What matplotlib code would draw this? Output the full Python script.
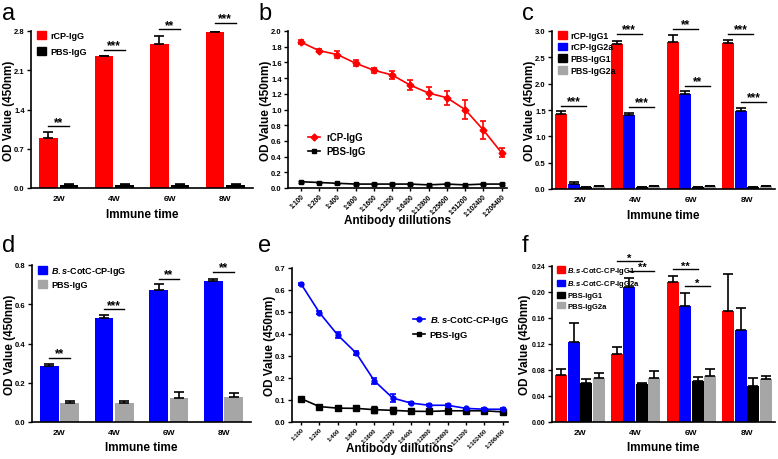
import numpy as np
import matplotlib
matplotlib.use("Agg")
import matplotlib.pyplot as plt
from matplotlib.patches import Patch
from matplotlib.lines import Line2D

plt.rcParams['font.family'] = ['Liberation Sans', 'DejaVu Sans']
plt.rcParams['font.weight'] = 'bold'
plt.rcParams['mathtext.fontset'] = 'custom'
plt.rcParams['mathtext.it'] = 'Liberation Sans:italic:bold'
plt.rcParams['mathtext.rm'] = 'Liberation Sans:bold'

# ---------------- data ----------------
weeks = ["2W", "4W", "6W", "8W"]
dilutions = ["1:100", "1:200", "1:400", "1:800", "1:1600", "1:3200", "1:6400",
             "1:12800", "1:25600", "1:51200", "1:102400", "1:206400"]

# panel a
a_rcp = [0.89, 2.35, 2.56, 2.79]
a_rcp_err = [0.10, 0.01, 0.15, 0.01]
a_pbs = [0.06, 0.06, 0.06, 0.06]
a_pbs_err = [0.005, 0.005, 0.005, 0.005]

# panel b
b_rcp = [1.86, 1.75, 1.70, 1.59, 1.50, 1.44, 1.31, 1.21, 1.15, 1.00, 0.74, 0.45]
b_rcp_err = [0.03, 0.02, 0.04, 0.04, 0.03, 0.05, 0.06, 0.08, 0.09, 0.12, 0.11, 0.06]
b_pbs = [0.08, 0.07, 0.06, 0.05, 0.05, 0.05, 0.05, 0.04, 0.05, 0.04, 0.05, 0.05]
b_pbs_err = [0.01] * 12

# panel c
c_igg1 = [1.43, 2.76, 2.80, 2.78]
c_igg1_err = [0.05, 0.05, 0.13, 0.05]
c_igg2a = [0.10, 1.41, 1.80, 1.49]
c_igg2a_err = [0.03, 0.04, 0.07, 0.04]
c_pbs1 = [0.04, 0.04, 0.04, 0.04]
c_pbs1_err = [0.005] * 4
c_pbs2a = [0.05, 0.05, 0.05, 0.05]
c_pbs2a_err = [0.005] * 4

# panel d
d_bs = [0.284, 0.532, 0.673, 0.718]
d_bs_err = [0.013, 0.015, 0.030, 0.011]
d_pbs = [0.097, 0.097, 0.124, 0.127]
d_pbs_err = [0.010, 0.010, 0.031, 0.023]

# panel e
e_bs = [0.627, 0.497, 0.395, 0.314, 0.187, 0.109, 0.086, 0.076, 0.076, 0.062, 0.058, 0.058]
e_bs_err = [0.003, 0.008, 0.012, 0.010, 0.015, 0.017, 0.004, 0.004, 0.008, 0.003, 0.004, 0.004]
e_pbs = [0.106, 0.070, 0.063, 0.062, 0.056, 0.053, 0.049, 0.048, 0.051, 0.051, 0.051, 0.046]
e_pbs_err = [0.008, 0.005, 0.009, 0.008, 0.015, 0.015, 0.005, 0.006, 0.008, 0.008, 0.006, 0.005]

# panel f
f_bs1 = [0.0726, 0.104, 0.216, 0.171]
f_bs1_err = [0.009, 0.011, 0.009, 0.056]
f_bs2a = [0.1226, 0.208, 0.179, 0.141]
f_bs2a_err = [0.030, 0.013, 0.020, 0.035]
f_pbs1 = [0.060, 0.0587, 0.063, 0.056]
f_pbs1_err = [0.006, 0.002, 0.006, 0.011]
f_pbs2a = [0.068, 0.068, 0.0706, 0.0654]
f_pbs2a_err = [0.008, 0.010, 0.011, 0.006]

BS = r"$\mathit{B.s}$"

RED = "#ff0000"
BLUE = "#0000ff"
BLACK = "#000000"
GRAY = "#a6a6a6"

W, H = 778, 460
fig = plt.figure(figsize=(W / 100, H / 100), dpi=100)

TICK_FS = 5.5
LAB_FS = 8.5


def px_axes(left, top, right, bottom):
    return fig.add_axes([left / W, 1 - bottom / H, (right - left) / W, (bottom - top) / H])


def style(ax, yticks, fmt, wpx, hpx, xlab_off, ylab_off=22, ytick_fs=TICK_FS):
    for s in ["top", "right"]:
        ax.spines[s].set_visible(False)
    for s in ["left", "bottom"]:
        ax.spines[s].set_linewidth(1.2)
    ax.set_yticks(yticks)
    ax.set_yticklabels([fmt.format(v) for v in yticks], fontsize=ytick_fs, fontweight='bold')
    ax.set_ylim(yticks[0], yticks[-1])
    ax.tick_params(axis='y', length=3, width=1.0, pad=1.5)
    ax.set_ylabel("OD Value (450nm)", fontsize=LAB_FS, fontweight='bold')
    ax.yaxis.set_label_coords(-ylab_off / wpx, 0.5)
    ax.yaxis.label.set_va('center')
    ax._xlab = (xlab_off, hpx)


def set_xlabel(ax, text):
    off, hpx = ax._xlab
    ax.set_xlabel(text, fontsize=LAB_FS, fontweight='bold')
    ax.xaxis.set_label_coords(0.5, -off / hpx)
    ax.xaxis.label.set_va('center')


def bars(ax, series, errs, colors, width, gap):
    n = len(series)
    x = np.arange(len(weeks))
    centers = []
    for i, (vals, err, col) in enumerate(zip(series, errs, colors)):
        off = (i - (n - 1) / 2) * (width + gap)
        xi = x + off
        ax.bar(xi, vals, width=width, color=col, zorder=2)
        ax.errorbar(xi, vals, yerr=[np.zeros(len(vals)), err], fmt='none',
                    ecolor='black', elinewidth=1.2, capsize=3.5, capthick=1.2, zorder=3)
        centers.append(xi)
    ax.set_xticks(x)
    ax.set_xticklabels(weeks, fontsize=TICK_FS + 0.5, fontweight='bold')
    ax.tick_params(axis='x', length=0, pad=5)
    ax.set_xlim(-0.5, len(weeks) - 0.5)
    set_xlabel(ax, "Immune time")
    return centers


def sig(ax, x1, x2, y, text, dy, fs=8.5):
    ax.plot([x1, x2], [y, y], color='black', lw=1.0, clip_on=False, zorder=4)
    ax.text((x1 + x2) / 2, y + dy, text, ha='center', va='center',
            fontsize=fs, fontweight='bold', clip_on=False)


def bar_legend(ax, labels, colors, size=6.5, spacing=0.35, hh=1.0, tpad=0.4):
    handles = [Patch(facecolor=c, edgecolor=c) for c in colors]
    ax.legend(handles, labels, loc='upper left', bbox_to_anchor=(0.0, 1.04),
              frameon=False, handlelength=1.0, handleheight=hh,
              handletextpad=tpad, labelspacing=spacing, borderaxespad=0.3,
              prop={'weight': 'bold', 'size': size})


def line_axes(ax, fs):
    x = np.arange(len(dilutions))
    ax.set_xticks(x)
    ax.set_xticklabels(dilutions, rotation=45, ha='right', rotation_mode='anchor',
                       fontsize=fs, fontweight='bold')
    ax.tick_params(axis='x', length=2.5, width=1.0, pad=1.0)
    set_xlabel(ax, "Antibody dillutions")
    return x


# ---------------- panel a ----------------
ax = px_axes(31, 32, 253, 189)
style(ax, [0.0, 0.7, 1.4, 2.1, 2.8], "{:.1f}", 222, 157, 26)
cs = bars(ax, [a_rcp, a_pbs], [a_rcp_err, a_pbs_err], [RED, BLACK], 0.34, 0.03)
bar_legend(ax, ["rCP-IgG", "PBS-IgG"], [RED, BLACK], spacing=0.75)
for i, (y, t) in enumerate(zip([1.1, 2.47, 2.83, 2.95], ["**", "***", "**", "***"])):
    sig(ax, cs[0][i], cs[1][i], y, t, 0.08)

# ---------------- panel b ----------------
ax = px_axes(288, 32, 507, 189)
style(ax, list(np.round(np.arange(0, 2.01, 0.2), 1)), "{:.1f}", 219, 157, 32)
x = line_axes(ax, 4.8)
ax.errorbar(x, b_rcp, yerr=b_rcp_err, color=RED, marker='D', ms=3.5, lw=1.2,
            elinewidth=1.2, capsize=2.5, capthick=1.2, zorder=3)
ax.errorbar(x, b_pbs, yerr=b_pbs_err, color=BLACK, marker='s', ms=3.5, lw=1.2,
            elinewidth=1.0, capsize=2, zorder=2)
ax.set_xlim(-0.7, 11.3)
h = [Line2D([], [], color=RED, marker='D', ms=3.5, lw=1.2),
     Line2D([], [], color=BLACK, marker='s', ms=3.5, lw=1.2)]
ax.legend(h, ["rCP-IgG", "PBS-IgG"], loc='center left', bbox_to_anchor=(0.05, 0.28),
          frameon=False, handlelength=1.3, handletextpad=0.6, labelspacing=0.4,
          prop={'weight': 'bold', 'size': 7})

# ---------------- panel c ----------------
ax = px_axes(552, 32, 775, 190)
style(ax, [0.0, 0.5, 1.0, 1.5, 2.0, 2.5, 3.0], "{:.1f}", 223, 158, 26)
cs = bars(ax, [c_igg1, c_igg2a, c_pbs1, c_pbs2a],
          [c_igg1_err, c_igg2a_err, c_pbs1_err, c_pbs2a_err],
          [RED, BLUE, BLACK, GRAY], 0.215, 0.01)
bar_legend(ax, ["rCP-IgG1", "rCP-IgG2a", "PBS-IgG1", "PBS-IgG2a"], [RED, BLUE, BLACK, GRAY],
           size=6.3, spacing=0.3)
for i, (y, t) in enumerate(zip([1.57, 2.94, 3.04, 2.95], ["***", "***", "**", "***"])):
    sig(ax, cs[0][i], cs[2][i], y, t, 0.09)
for i, (y, t) in [(1, (1.55, "***")), (2, (1.96, "**")), (3, (1.65, "***"))]:
    sig(ax, cs[1][i], cs[3][i], y, t, 0.09)

# ---------------- panel d ----------------
ax = px_axes(32, 266, 251, 423)
style(ax, [0.0, 0.2, 0.4, 0.6, 0.8], "{:.1f}", 219, 157, 25)
cs = bars(ax, [d_bs, d_pbs], [d_bs_err, d_pbs_err], [BLUE, GRAY], 0.34, 0.03)
bar_legend(ax, [BS + "-CotC-CP-IgG", "PBS-IgG"], [BLUE, GRAY], spacing=0.3)
for i, (y, t) in enumerate(zip([0.328, 0.574, 0.73, 0.764], ["**", "***", "**", "**"])):
    sig(ax, cs[0][i], cs[1][i], y, t, 0.023)

# ---------------- panel e ----------------
ax = px_axes(292, 269, 508, 423)
style(ax, list(np.round(np.arange(0, 0.71, 0.1), 1)), "{:.1f}", 216, 154, 26)
x = line_axes(ax, 4.2)
ax.errorbar(x, e_bs, yerr=e_bs_err, color=BLUE, marker='o', ms=3.5, lw=1.2,
            elinewidth=1.2, capsize=2.5, capthick=1.2, zorder=3)
ax.errorbar(x, e_pbs, yerr=e_pbs_err, color=BLACK, marker='s', ms=3.8, lw=1.2,
            elinewidth=1.0, capsize=2.5, capthick=1.0, zorder=2)
ax.set_xlim(-0.5, 11.3)
h = [Line2D([], [], color=BLUE, marker='o', ms=3.5, lw=1.2),
     Line2D([], [], color=BLACK, marker='s', ms=3.5, lw=1.2)]
ax.legend(h, [BS + "-CotC-CP-IgG", "PBS-IgG"], loc='center left',
          bbox_to_anchor=(0.52, 0.62), frameon=False, handlelength=1.3,
          handletextpad=0.5, labelspacing=0.45, prop={'weight': 'bold', 'size': 6.8})

# ---------------- panel f ----------------
ax = px_axes(552, 267, 775, 423)
style(ax, [0.0, 0.04, 0.08, 0.12, 0.16, 0.20, 0.24], "{:.2f}", 223, 156, 25,
      ylab_off=27, ytick_fs=5.0)
cs = bars(ax, [f_bs1, f_bs2a, f_pbs1, f_pbs2a],
          [f_bs1_err, f_bs2a_err, f_pbs1_err, f_pbs2a_err],
          [RED, BLUE, BLACK, GRAY], 0.215, 0.01)
bar_legend(ax, [BS + "-CotC-CP-IgG1", BS + "-CotC-CP-IgG2a", "PBS-IgG1", "PBS-IgG2a"],
           [RED, BLUE, BLACK, GRAY], size=5.5, spacing=0.3, hh=0.9, tpad=0.3)
sig(ax, cs[0][1], cs[2][1], 0.247, "*", 0.005, fs=8)
sig(ax, cs[1][1], cs[3][1], 0.232, "**", 0.006, fs=8)
sig(ax, cs[0][2], cs[2][2], 0.235, "**", 0.006, fs=8)
sig(ax, cs[1][2], cs[3][2], 0.209, "*", 0.005, fs=8)

# panel letters
for lab, xp, yp in [("a", 2, 14), ("b", 258, 14), ("c", 522, 14),
                    ("d", 2, 246), ("e", 258, 246), ("f", 522, 246)]:
    fig.text(xp / W, 1 - yp / H, lab, fontsize=17, fontweight='normal',
             ha='left', va='center')

fig.savefig("out.png", dpi=100)
